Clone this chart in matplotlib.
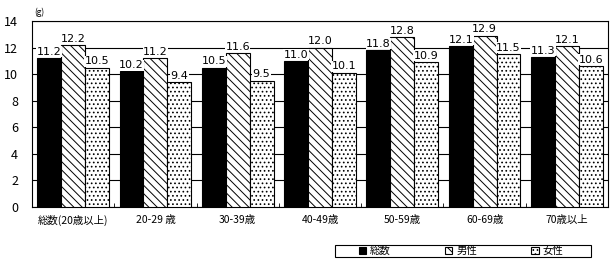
import matplotlib
matplotlib.use("Agg")
import matplotlib.pyplot as plt
from matplotlib.patches import Rectangle
import numpy as np

plt.rcParams['font.family'] = ['Noto Sans CJK JP', 'DejaVu Sans']
plt.rcParams['hatch.linewidth'] = 0.7

categories = ["総数(20歳以上)", "20-29 歳", "30-39歳", "40-49歳", "50-59歳", "60-69歳", "70歳以上"]
series_names = ["総数", "男性", "女性"]
total = [11.2, 10.2, 10.5, 11.0, 11.8, 12.1, 11.3]
male = [12.2, 11.2, 11.6, 12.0, 12.8, 12.9, 12.1]
female = [10.5, 9.4, 9.5, 10.1, 10.9, 11.5, 10.6]
yticks = [0, 2, 4, 6, 8, 10, 12, 14]

fig = plt.figure(figsize=(6.16, 2.63), dpi=100)
ax = fig.add_axes([32/616, 1-207/263, 576/616, 186/263])

x = np.arange(len(categories))
w = 0.29
styles = [dict(color='black', hatch=None),
          dict(color='white', hatch='\\\\\\\\'),
          dict(color='white', hatch='....')]
for i, (vals, st) in enumerate(zip([total, male, female], styles)):
    ax.bar(x + (i-1)*w, vals, w, facecolor=st['color'], edgecolor='black',
           hatch=st['hatch'], linewidth=0.8, label=series_names[i], zorder=3)
    for xi, v in zip(x + (i-1)*w, vals):
        ax.text(xi, v + 0.1, f"{v:.1f}", ha='center', va='bottom', fontsize=8,
                family='DejaVu Sans', zorder=4,
                bbox=dict(facecolor='white', edgecolor='none', pad=0.3))

ax.set_xlim(-0.5, len(categories)-0.5)
ax.set_ylim(0, 14)
ax.set_yticks(yticks)
ax.yaxis.grid(True, color='black', linewidth=0.8, zorder=0)
ax.set_axisbelow(True)
ax.tick_params(axis='y', length=0, labelsize=9, pad=10)
ax.set_xticks(x)
ax.set_xticklabels(categories, fontsize=7.5)
ax.tick_params(axis='x', length=0, pad=6)
ax.set_xticks(np.arange(len(categories)+1) - 0.5, minor=True)
ax.tick_params(axis='x', which='minor', direction='in', length=3)
for s in ax.spines.values():
    s.set_linewidth(0.8)

fig.text(34/616, 1-12/263, "(g)", fontsize=6, va='center', ha='left')

# legend frame
fig.patches.append(Rectangle((335/616, 1-257/263), 256/616, 12/263,
                             transform=fig.transFigure, facecolor='white',
                             edgecolor='black', linewidth=0.8, zorder=1))
leg = fig.legend(loc='center', bbox_to_anchor=(461/616, 1-251/263), ncol=3,
                 fontsize=7.5, frameon=False,
                 handlelength=0.7, handleheight=0.7, columnspacing=5.2,
                 borderpad=0, borderaxespad=0, handletextpad=0.4)
leg.set_zorder(2)

fig.savefig("out.png", dpi=100)
